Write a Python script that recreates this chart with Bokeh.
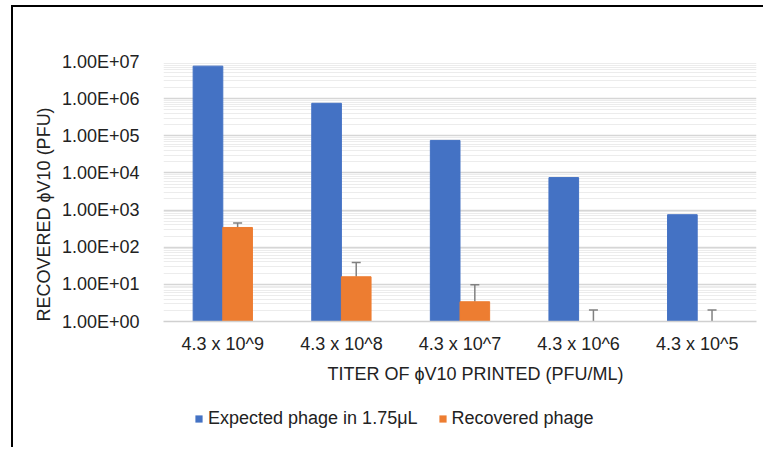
from bokeh.plotting import figure
from bokeh.layouts import column
from bokeh.models import (ColumnDataSource, FixedTicker, CustomJSTickFormatter, Whisker,
                          TeeHead, Legend, LegendItem, Title, FactorRange, Range1d)
from bokeh.transform import dodge
from bokeh.embed import file_html
from bokeh.resources import INLINE

categories = ["4.3 x 10^9", "4.3 x 10^8", "4.3 x 10^7", "4.3 x 10^6", "4.3 x 10^5"]
expected = [7.5e6, 7.5e5, 7.5e4, 7.5e3, 7.5e2]
recovered = [340, 16, 3.4, 0, 0]
recovered_err = [107, 23, 6.4, 2.05, 2.05]
y_ticks = [1, 10, 100, 1e3, 1e4, 1e5, 1e6, 1e7]
series_names = ["Expected phage in 1.75μL", "Recovered phage"]

FONT = "Liberation Sans"
FS = "18px"
TXT = "#222222"
BLUE = "#4472C4"
ORANGE = "#ED7D31"

p = figure(frame_width=593, frame_height=260, x_range=FactorRange(*categories), y_axis_type="log",
           y_range=Range1d(1, 1e7), output_backend="svg", toolbar_location=None,
           min_border_left=150, min_border_right=7, min_border_top=54, min_border_bottom=70)
p.outline_line_color = None

src_b = ColumnDataSource(dict(cat=categories, top=expected))
rb = p.vbar(x=dodge("cat", -0.125, range=p.x_range), top="top", bottom=1, width=0.25,
            source=src_b, fill_color=BLUE, line_color=BLUE)

cats_o = [c for c, v in zip(categories, recovered) if v > 0]
vals_o = [v for v in recovered if v > 0]
src_o = ColumnDataSource(dict(cat=cats_o, top=vals_o))
ro = p.vbar(x=dodge("cat", 0.125, range=p.x_range), top="top", bottom=1, width=0.25,
            source=src_o, fill_color=ORANGE, line_color=ORANGE)

src_e = ColumnDataSource(dict(cat=categories,
                              lower=[max(v, 1) for v in recovered],
                              upper=[v + e for v, e in zip(recovered, recovered_err)]))
w = Whisker(base=dodge("cat", 0.125, range=p.x_range), lower="lower", upper="upper",
            source=src_e, line_color="#808080", line_width=1.5,
            upper_head=TeeHead(size=9, line_color="#808080", line_width=1.5), lower_head=None)
p.add_layout(w)

# axes
p.yaxis.ticker = FixedTicker(ticks=y_ticks,
                             minor_ticks=[m * 10 ** d for d in range(0, 7) for m in range(2, 10)])
p.yaxis.formatter = CustomJSTickFormatter(code="""
var s = tick.toExponential(2).toUpperCase();
return s.replace(/E([+-])(\\d+)$/, function(m, sg, d){ return 'E' + sg + (d.length < 2 ? '0' + d : d); });
""")
p.yaxis.axis_line_color = None
p.yaxis.major_tick_line_color = None
p.yaxis.minor_tick_line_color = None
p.yaxis.major_label_standoff = 18
p.yaxis.major_label_text_font = FONT
p.yaxis.major_label_text_font_size = FS
p.yaxis.major_label_text_color = TXT

p.xaxis.axis_line_color = "#d0d0d0"
p.xaxis.axis_line_width = 1.5
p.xaxis.major_tick_line_color = None
p.xaxis.minor_tick_line_color = None
p.xaxis.major_label_standoff = 6
p.xaxis.major_label_text_font = FONT
p.xaxis.major_label_text_font_size = FS
p.xaxis.major_label_text_color = TXT

p.xgrid.grid_line_color = None
p.ygrid.grid_line_color = "#d6d6d6"
p.ygrid.grid_line_width = 1.5
p.ygrid.minor_grid_line_color = "#ececec"
p.ygrid.minor_grid_line_width = 1

# axis titles as side-panel titles
p.add_layout(Title(text="TITER OF ϕV10 PRINTED (PFU/ML)", align="left", offset=164,
                   standoff=10, text_font=FONT, text_font_size=FS, text_font_style="normal",
                   text_color=TXT), "below")
p.add_layout(Title(text="RECOVERED ϕV10 (PFU)", align="left", offset=0,
                   standoff=10, text_font=FONT, text_font_size=FS, text_font_style="normal",
                   text_color=TXT), "left")

# legend strip below the chart (swatch proxies of zero size, nothing visible is drawn)
lg = figure(width=750, height=56, x_range=Range1d(0, 1), y_range=Range1d(0, 1),
            output_backend="svg", toolbar_location=None, min_border=0)
lg.axis.visible = False
lg.grid.visible = False
lg.outline_line_color = None
proxy = ColumnDataSource(dict(x=[0], top=[0]))
d1 = lg.vbar(x="x", top="top", bottom=0, width=0, source=proxy,
             fill_color=BLUE, line_color=BLUE, line_alpha=0)
d2 = lg.vbar(x="x", top="top", bottom=0, width=0, source=proxy,
             fill_color=ORANGE, line_color=ORANGE, line_alpha=0)
legend = Legend(items=[LegendItem(label=series_names[0], renderers=[d1]),
                       LegendItem(label=series_names[1], renderers=[d2])],
                orientation="horizontal", location=(31, 18), padding=0, margin=0,
                spacing=20, glyph_width=9, glyph_height=9, label_standoff=5,
                label_text_font=FONT, label_text_font_size=FS, label_text_color=TXT,
                border_line_color=None, background_fill_alpha=0)
lg.add_layout(legend, "center")

layout = column(p, lg, spacing=0,
                styles={"margin-left": "11px", "margin-top": "5px",
                        "border-left": "2px solid black", "border-top": "2px solid black"})

open("out.html", "w").write(file_html(layout, INLINE))
